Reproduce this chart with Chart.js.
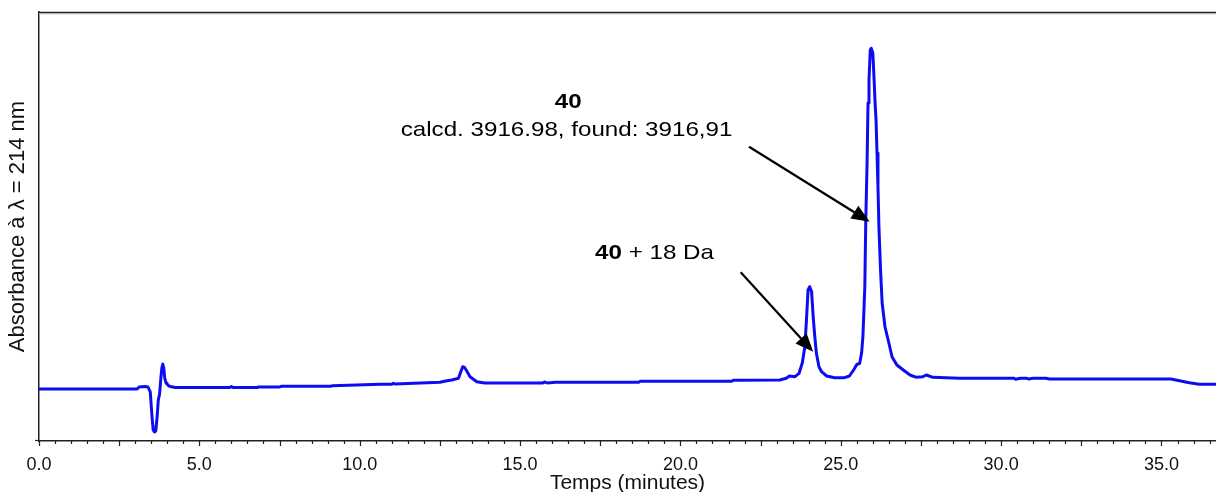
<!DOCTYPE html>
<html>
<head>
<meta charset="utf-8">
<script src="https://cdn.jsdelivr.net/npm/chart.js@4.4.1/dist/chart.umd.min.js"></script>
<style>
  html, body { margin: 0; padding: 0; background: #fff; }
  canvas { display: block; }
</style>
</head>
<body>
<canvas id="chromatogram" width="1216" height="492"></canvas>
<script>
// retention time (min)
var times = [
  0, 1, 2, 3.06, 3.12, 3.3, 3.4, 3.47, 3.52, 3.56, 3.6, 3.64, 3.68, 3.72, 3.76,
  3.8, 3.83, 3.86, 3.89, 3.92, 3.96, 3.99, 4.05, 4.1, 4.25, 5.0, 5.95, 6.0, 6.05,
  6.8, 6.85, 7.5, 7.55, 9.1, 9.15, 10.65, 11.0, 11.05, 11.1, 11.9, 12.5, 12.72,
  12.87, 13.08, 13.15, 13.21, 13.27, 13.32, 13.44, 13.65, 13.9, 15.7, 15.78,
  15.85, 16.1, 18.7, 18.75, 21.6, 21.65, 23.1, 23.3, 23.4, 23.57, 23.7, 23.8,
  23.88, 23.93, 23.98, 24.03, 24.09, 24.14, 24.19, 24.24, 24.32, 24.4, 24.56,
  24.81, 25.12, 25.27, 25.4, 25.5, 25.59, 25.65, 25.69, 25.75, 25.78, 25.82,
  25.85, 25.88, 25.92, 25.95, 26.0, 26.04, 26.07, 26.1, 26.13, 26.16, 26.19,
  26.24, 26.29, 26.38, 26.5, 26.6, 26.75, 26.95, 27.16, 27.36, 27.56, 27.67,
  27.87, 28.7, 30.4, 30.45, 30.6, 30.8, 30.85, 31.0, 31.4, 31.5, 35.3, 35.56,
  35.87, 36.18, 36.7
];
// absorbance at 214 nm (arbitrary units, mAU)
var absorbance = [
  52, 52, 52, 52, 54, 54.5, 54, 49, 26, 11, 9, 10, 23, 41, 47,
  63, 73, 77, 73, 63, 58, 57, 55, 54.5, 53.5, 53.5, 53.5, 54.5, 53.5,
  53.5, 54, 54, 54.7, 54.7, 55.3, 56.7, 56.7, 57.7, 57, 58, 58.7, 60.3,
  61, 62.7, 69, 74.3, 73.5, 71, 64.3, 59.3, 58, 58, 59,
  58, 58.7, 58.7, 59.7, 59.7, 60.7, 61, 62.7, 65, 64.3, 67.7, 78,
  94.3, 121, 151, 154.3, 149.3, 124.3, 104.3, 87.7, 74.3, 69.3, 65,
  63.3, 63.3, 65, 71, 76.5, 77.7, 88, 104.3, 154.3, 221, 278,
  338, 361, 391, 392.7, 388, 361, 338, 321, 288, 254, 214,
  171, 138, 114, 98, 84, 76, 71, 66, 63.7, 64.3, 66,
  63.7, 62.7, 62.7, 61.7, 62.7, 62.7, 62, 62.7, 62.7, 62, 62, 60.3,
  58.3, 56.7, 56.7
];

var xLabelStep = 5;
var xMinorStep = 0.5;

// annotation texts: [text, bold]
var notes = [
  { parts: [["40", true]], t: 16.5, a: 339, align: "center" },
  { parts: [["calcd. 3916.98, found: 3916,91", false]], t: 16.45, a: 310.5, align: "center" },
  { parts: [["40", true], [" + 18 Da", false]], t: 17.34, a: 187.5, align: "left" }
];
var arrows = [
  { from: [22.14, 294.3], to: [25.9, 219.3] },
  { from: [21.88, 168.7], to: [24.14, 89.3] }
];

var fontName = "Liberation Sans";

var decorations = {
  id: "decorations",
  afterDatasetsDraw: function (chart) {
    var ctx = chart.ctx;
    var x = chart.scales.x;
    var y = chart.scales.y;
    var area = chart.chartArea;

    ctx.save();
    // top frame
    ctx.strokeStyle = "#d0d0d0";
    ctx.lineWidth = 1;
    ctx.beginPath();
    ctx.moveTo(area.left, area.top + 2);
    ctx.lineTo(area.right, area.top + 2);
    ctx.stroke();
    ctx.strokeStyle = "#222";
    ctx.lineWidth = 1.5;
    ctx.beginPath();
    ctx.moveTo(area.left, area.top + 0.5);
    ctx.lineTo(area.right, area.top + 0.5);
    ctx.stroke();

    // x tick marks
    ctx.lineWidth = 1.2;
    var n = Math.floor(x.max / xMinorStep);
    for (var i = 0; i <= n; i++) {
      var px = Math.round(x.getPixelForValue(i * xMinorStep)) + 0.5;
      var len = i % 5 === 0 ? 5 : 3;
      ctx.beginPath();
      ctx.moveTo(px, area.bottom);
      ctx.lineTo(px, area.bottom + len);
      ctx.stroke();
    }
    // y tick at 0
    var py = Math.round(y.getPixelForValue(0)) - 0.5;
    ctx.beginPath();
    ctx.moveTo(area.left - 4, py);
    ctx.lineTo(area.left, py);
    ctx.stroke();

    // arrows
    ctx.strokeStyle = "#000";
    ctx.fillStyle = "#000";
    ctx.lineWidth = 2.2;
    arrows.forEach(function (a) {
      var x1 = x.getPixelForValue(a.from[0]);
      var y1 = y.getPixelForValue(a.from[1]);
      var x2 = x.getPixelForValue(a.to[0]);
      var y2 = y.getPixelForValue(a.to[1]);
      var ang = Math.atan2(y2 - y1, x2 - x1);
      var head = 18;
      var half = 7.5;
      var bx = x2 - head * Math.cos(ang);
      var by = y2 - head * Math.sin(ang);
      ctx.beginPath();
      ctx.moveTo(x1, y1);
      ctx.lineTo(bx, by);
      ctx.stroke();
      ctx.beginPath();
      ctx.moveTo(x2, y2);
      ctx.lineTo(bx + half * Math.sin(ang), by - half * Math.cos(ang));
      ctx.lineTo(bx - half * Math.sin(ang), by + half * Math.cos(ang));
      ctx.closePath();
      ctx.fill();
    });

    // annotation texts (slightly widened like the original export)
    var sx = 1.15;
    ctx.textBaseline = "middle";
    ctx.textAlign = "left";
    notes.forEach(function (note) {
      var w = 0;
      note.parts.forEach(function (p) {
        ctx.font = (p[1] ? "bold " : "") + "21px '" + fontName + "'";
        w += ctx.measureText(p[0]).width;
      });
      var cx = x.getPixelForValue(note.t);
      var cy = y.getPixelForValue(note.a);
      var start = note.align === "center" ? cx - (w * sx) / 2 : cx;
      ctx.save();
      ctx.translate(start, cy);
      ctx.scale(sx, 1);
      var off = 0;
      note.parts.forEach(function (p) {
        ctx.font = (p[1] ? "bold " : "") + "21px '" + fontName + "'";
        ctx.fillText(p[0], off, 0);
        off += ctx.measureText(p[0]).width;
      });
      ctx.restore();
    });
    ctx.restore();
  }
};

var chart = new Chart(document.getElementById("chromatogram"), {
  type: "line",
  data: {
    datasets: [
      {
        data: times.map((t, i) => ({ x: t, y: absorbance[i] })),
        borderColor: "#0c0cf2",
        borderWidth: 3,
        borderJoinStyle: "round",
        borderCapStyle: "round",
        pointRadius: 0,
        tension: 0,
        fill: false,
      },
    ],
  },
  options: {
    responsive: false,
    animation: false,
    layout: {
      padding: { top: 12, right: 0, left: 0, bottom: 0 },
    },
    plugins: {
      legend: { display: false },
      tooltip: { enabled: false },
    },
    scales: {
      x: {
        type: "linear",
        min: 0,
        max: 36.7,
        grid: { display: false },
        border: { display: true, color: "#222", width: 1.5 },
        ticks: {
          stepSize: xLabelStep,
          includeBounds: false,
          autoSkip: false,
          maxRotation: 0,
          padding: 5,
          color: "#111",
          font: { family: fontName, size: 18 },
          callback: (v) => v.toFixed(1),
        },
        title: {
          display: true,
          text: "Temps (minutes)",
          color: "#111",
          font: { family: fontName, size: 21, lineHeight: 1 },
          padding: { top: 0, bottom: -2 },
        },
        afterFit: (scale) => {
          scale.height = 51;
        },
      },
      y: {
        min: 0,
        max: 429,
        grid: { display: false },
        border: { display: true, color: "#222", width: 1.5 },
        ticks: { display: false },
        title: {
          display: true,
          text: "Absorbance à λ = 214 nm",
          color: "#111",
          font: { family: fontName, size: 22, lineHeight: 1 },
          padding: { top: 7, bottom: 0 },
        },
        afterFit: (scale) => {
          scale.width = 39;
        },
      },
    },
  },
  plugins: [decorations],
});
</script>
</body>
</html>
